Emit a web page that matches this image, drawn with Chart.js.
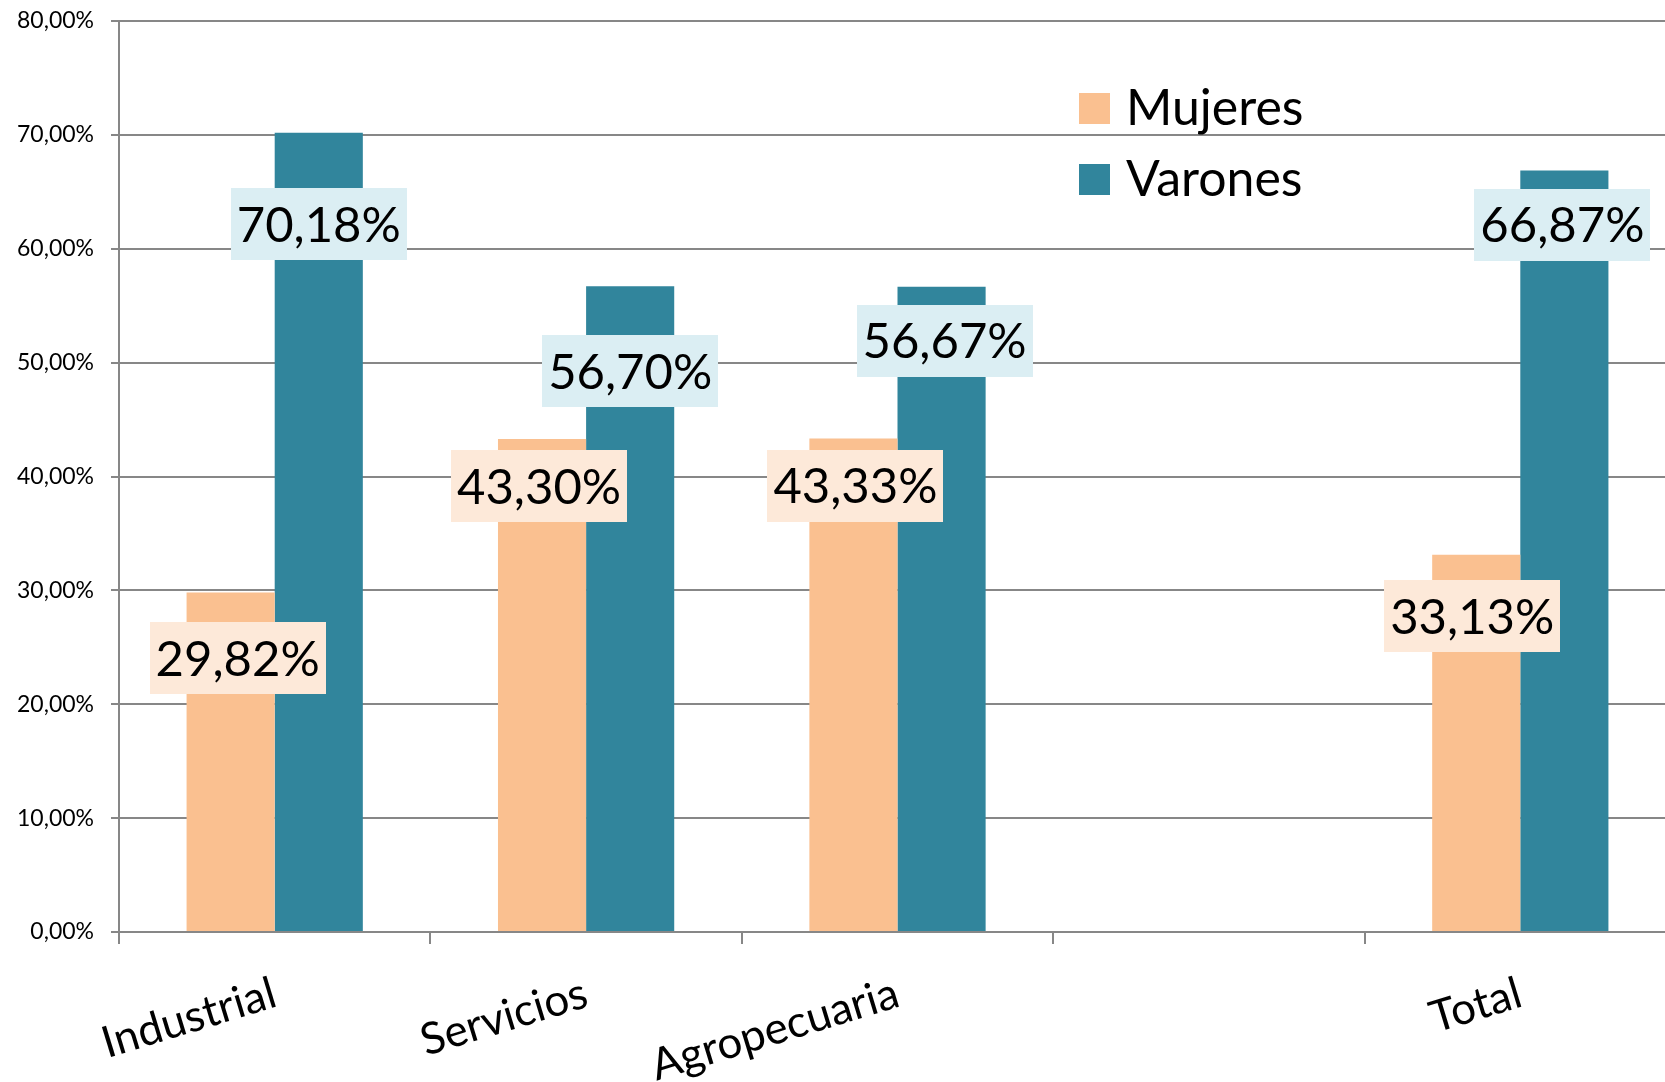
<!DOCTYPE html>
<html><head><meta charset="utf-8">
<script src="https://cdn.jsdelivr.net/npm/chart.js@4/dist/chart.umd.min.js"></script>
<style>
html,body{margin:0;padding:0;overflow:hidden;background:#fff;width:1665px;height:1082px}
#wrap{position:absolute;left:0;top:0;width:1676px;height:1082px}
</style></head>
<body><div id="wrap"><canvas id="c"></canvas></div>
<script>
// ---- data ----
const categories = ['Industrial', 'Servicios', 'Agropecuaria', '', 'Total'];
const seriesNames = ['Mujeres', 'Varones'];
const mujeres = [29.82, 43.30, 43.33, null, 33.13];
const varones = [70.18, 56.70, 56.67, null, 66.87];
const yMin = 0, yMax = 80, yStep = 10;

// ---- style ----
const FONT = 'Lato, "Open Sans", sans-serif';
const barColors = ['#FAC090', '#31859C'];
const labelBg = ['#FDE9D9', '#DBEEF3'];
const gridColor = '#878787';
// label nudges in px relative to bar top centre [dx, dy]
const labelNudge = [
  [[7, 66], [-3, 47], [2, 47], [0, 0], [-4, 61]],
  [[0, 91], [0, 85], [3, 54], [0, 0], [-2, 54]]
];

const fmt = v => v.toFixed(2).replace('.', ',') + '%';

const labelPlugin = {
  id: 'boxLabels',
  afterDatasetsDraw(chart) {
    const ctx = chart.ctx;
    ctx.save();
    ctx.font = '49px ' + FONT;
    ctx.textAlign = 'center';
    ctx.textBaseline = 'middle';
    chart.data.datasets.forEach((ds, di) => {
      const meta = chart.getDatasetMeta(di);
      meta.data.forEach((el, i) => {
        const v = ds.data[i];
        if (v === null || v === undefined) return;
        const t = fmt(v);
        const w = ctx.measureText(t).width + 12;
        const h = 72;
        const cx = el.x + labelNudge[di][i][0];
        const cy = el.y + labelNudge[di][i][1];
        ctx.fillStyle = labelBg[di];
        ctx.fillRect(Math.round(cx - w / 2), Math.round(cy - h / 2), Math.round(w), h);
        ctx.fillStyle = '#000';
        ctx.fillText(t, cx, cy + 2);
      });
    });
    ctx.restore();
  }
};

const legendPlugin = {
  id: 'inLegend',
  afterDraw(chart) {
    const ctx = chart.ctx;
    ctx.save();
    ctx.font = '50px ' + FONT;
    ctx.textBaseline = 'middle';
    ctx.textAlign = 'left';
    chart.data.datasets.forEach((ds, di) => {
      const y = 93 + di * 71;
      ctx.fillStyle = ds.backgroundColor;
      ctx.fillRect(1079, y, 31, 31);
      ctx.fillStyle = '#000';
      ctx.fillText(ds.label, 1126, y + 16);
    });
    ctx.restore();
  }
};

new Chart(document.getElementById('c'), {
  type: 'bar',
  data: {
    labels: categories,
    datasets: [
      { label: seriesNames[0], data: mujeres, backgroundColor: barColors[0], borderWidth: 0 },
      { label: seriesNames[1], data: varones, backgroundColor: barColors[1], borderWidth: 0 }
    ]
  },
  options: {
    responsive: true,
    maintainAspectRatio: false,
    animation: false,
    events: [],
    layout: { padding: { top: 21, left: 0, right: 0, bottom: 0 } },
    datasets: { bar: { categoryPercentage: 0.566, barPercentage: 1.0 } },
    plugins: { legend: { display: false }, tooltip: { enabled: false } },
    scales: {
      x: {
        grid: { offset: true, drawOnChartArea: false, drawTicks: true, tickLength: 12, color: gridColor, lineWidth: 2 },
        border: { display: true, color: gridColor, width: 2 },
        ticks: { color: '#000', font: { family: FONT, size: 44 }, minRotation: 17, maxRotation: 17, padding: 23, autoSkip: false },
        afterFit: s => { s.height = 150; s.paddingLeft = 0; s.paddingRight = 0; s.paddingTop = 0; s.paddingBottom = 0; }
      },
      y: {
        min: yMin, max: yMax,
        grid: { color: gridColor, lineWidth: 2, tickLength: 8 },
        border: { display: true, color: gridColor, width: 2 },
        ticks: { stepSize: yStep, color: '#000', font: { family: FONT, size: 23 }, padding: 17, callback: v => fmt(v) },
        afterFit: s => { s.width = 119; s.paddingTop = 0; s.paddingBottom = 0; s.paddingLeft = 0; s.paddingRight = 0; }
      }
    }
  },
  plugins: [labelPlugin, legendPlugin]
});
</script>
</body></html>
